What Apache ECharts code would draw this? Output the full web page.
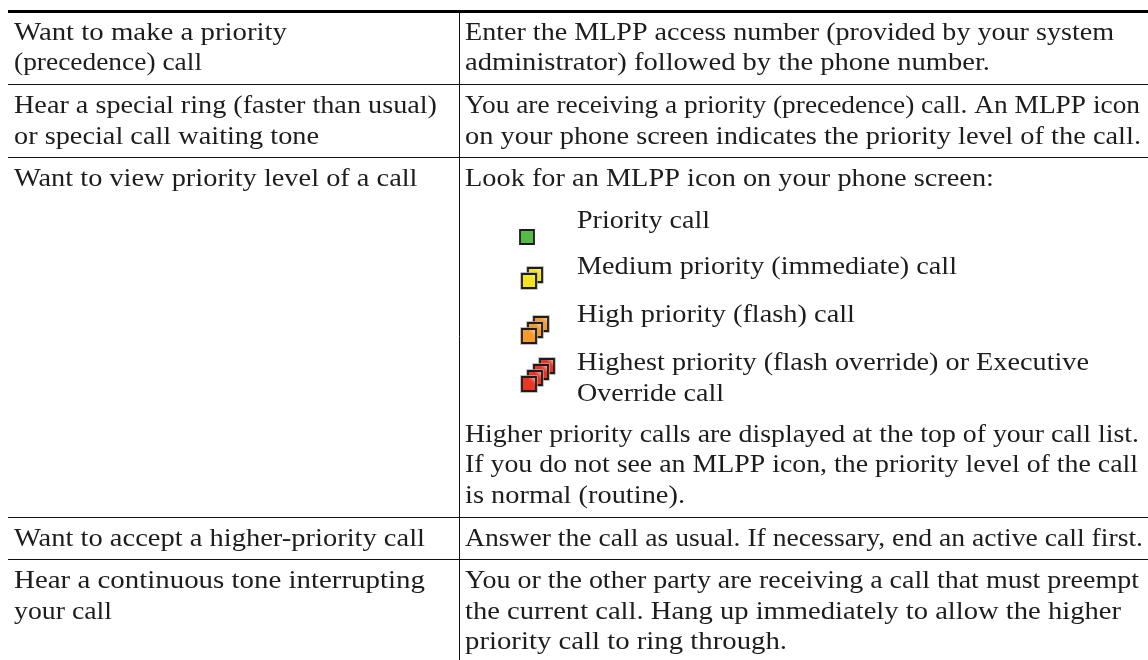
<!DOCTYPE html>
<html><head><meta charset="utf-8">
<style>html,body{margin:0;padding:0;background:#fff}#c{width:1148px;height:660px}</style>
<script src="https://cdn.jsdelivr.net/npm/echarts@6/dist/echarts.min.js"></script>
</head><body><div id="c"></div>
<script>
var leftRows = [
 ["Want to make a priority","(precedence) call"],
 ["Hear a special ring (faster than usual)","or special call waiting tone"],
 ["Want to view priority level of a call"],
 ["Want to accept a higher-priority call"],
 ["Hear a continuous tone interrupting","your call"]
];
var rightRows = [
 ["Enter the MLPP access number (provided by your system","administrator) followed by the phone number."],
 ["You are receiving a priority (precedence) call. An MLPP icon","on your phone screen indicates the priority level of the call."],
 ["Look for an MLPP icon on your phone screen:"],
 ["Answer the call as usual. If necessary, end an active call first."],
 ["You or the other party are receiving a call that must preempt","the current call. Hang up immediately to allow the higher","priority call to ring through."]
];
var iconLabels = [
 ["Priority call"],
 ["Medium priority (immediate) call"],
 ["High priority (flash) call"],
 ["Highest priority (flash override) or Executive","Override call"]
];
var noteLines = [
 "Higher priority calls are displayed at the top of your call list.",
 "If you do not see an MLPP icon, the priority level of the call",
 "is normal (routine)."
];
var iconColors = ["#57b947","#f2e422","#f79a2a","#ee3524"];

// layout (kept apart from the content)
var leftEnds  = [[287,202],[437,319],[417.5],[425],[425,112]];
var rightEnds = [[1114,990],[1140,1141],[994],[1143],[1139,1121,787]];
var iconEnds  = [[710],[957],[855],[1089,724]];
var noteEnds  = [1139,1138,685];
var rowBases  = [[38.5,69],[112,143],[185],[545],[587,618,648]];
var iconBases = [[227],[273],[321],[369,399.5]];
var noteBases = [441,471,502];

var FONT = '"Liberation Serif", serif', SIZE = 24.5, INK = '#1e1c1c', D = 5;
var LX = 14, RX = 465, IX = 577;
var meas = document.createElement('canvas').getContext('2d');
meas.font = SIZE+'px '+FONT;
var g = [];
function txt(s, x, end, base){
  g.push({type:'text', x:x, y:base-D, scaleX:(end-x)/meas.measureText(s).width,
    style:{text:s, x:0, y:0, font:SIZE+'px '+FONT, fill:INK, verticalAlign:'middle', align:'left'}});
}
function line(a,b,c,d,w,col){ g.push({type:'line', shape:{x1:a,y1:b,x2:c,y2:d}, style:{stroke:col||'#111', lineWidth:w}}); }

leftRows.forEach(function(r,i){ r.forEach(function(s,j){ txt(s, LX, leftEnds[i][j], rowBases[i][j]); }); });
rightRows.forEach(function(r,i){ r.forEach(function(s,j){ txt(s, RX, rightEnds[i][j], rowBases[i][j]); }); });
iconLabels.forEach(function(r,i){ r.forEach(function(s,j){ txt(s, IX, iconEnds[i][j], iconBases[i][j]); }); });
noteLines.forEach(function(s,j){ txt(s, RX, noteEnds[j], noteBases[j]); });

line(8,11.5,1148,11.5,3,'#000');
[84.5,157.5,517.5,559.5].forEach(function(y){ line(8,y,1148,y,1,'#111'); });
line(459.5,13,459.5,660,1,'#111');

var iconCorner = [[520,230],[522,274],[522,329],[522,377]];
iconColors.forEach(function(c,i){
  var n=i+1, s=14, step=6;
  for(var k=n-1;k>=0;k--){
    var x=iconCorner[i][0]+k*step, y=iconCorner[i][1]-k*step;
    if(i>0) g.push({type:'rect', shape:{x:x,y:y,width:s,height:s}, style:{fill:c, stroke:'#aaa', lineWidth:3.4}});
    g.push({type:'rect', shape:{x:x,y:y,width:s,height:s}, style:{
      fill:i==0?c:{type:'linear',x:1,y:0,x2:0,y2:1,colorStops:[{offset:0,color:'#ffe9d8'},{offset:.35,color:c},{offset:1,color:c}]},
      stroke:'#1c1c1c', lineWidth:1.8}});
  }
});
var chart = echarts.init(document.getElementById('c'),null,{renderer:'canvas'});
chart.setOption({animation:false, backgroundColor:'#fff', graphic:{elements:g}});
</script></body></html>
